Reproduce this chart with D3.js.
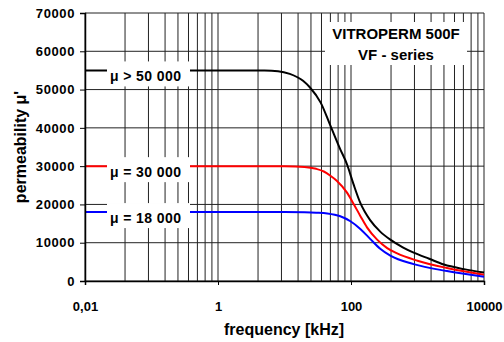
<!DOCTYPE html>
<html>
<head>
<meta charset="utf-8">
<script src="https://cdn.jsdelivr.net/npm/d3@7"></script>
<style>
  body { margin: 0; background: #fff; }
  text { font-family: "Liberation Sans", Arial, sans-serif; font-weight: bold; fill: #000; }
</style>
</head>
<body>
<svg id="chart"></svg>
<script>
// frequency in kHz, permeability values
const freqBlack = [0.01, 1, 5, 8, 12, 19, 24, 35, 49, 69, 87, 109, 138, 194, 275, 390, 600, 875, 1500, 2500, 5000, 10000];
const muBlack = [55000, 55000, 54950, 54800, 54100, 52300, 50600, 46600, 40600, 34400, 30500, 25300, 20400, 15900, 12900, 10800, 8800, 7400, 5800, 4300, 3100, 2200];

const freqRed = [0.01, 1, 10, 20, 30, 39, 49, 61, 86, 109, 138, 174, 247, 350, 494, 1000, 2770, 10000];
const muRed = [30000, 30000, 29950, 29800, 29300, 28600, 27500, 26200, 23200, 20200, 17000, 14000, 10800, 8600, 7200, 5300, 3400, 1650];

const freqBlue = [0.01, 1, 10, 20, 30, 44, 69, 98, 138, 194, 275, 390, 875, 2770, 10000];
const muBlue = [18000, 18000, 18000, 17950, 17850, 17650, 16900, 15600, 13600, 11000, 8400, 6600, 4400, 2600, 1120];

const seriesNames = ['μ > 50 000', 'μ = 30 000', 'μ = 18 000'];
const seriesColors = ['#000000', '#ff0000', '#0000ff'];

const xTicks = [0.01, 1, 100, 10000];
const xTickLabels = ['0,01', '1', '100', '10000'];
const yTicks = [0, 10000, 20000, 30000, 40000, 50000, 60000, 70000];

const width = 504;
const height = 342;
const margin = { top: 13, right: 20, bottom: 61, left: 85 };

const svg = d3.select('#chart')
    .attr('width', width)
    .attr('height', height);

const x = d3.scaleLog()
    .domain([0.01, 10000])
    .range([margin.left, width - margin.right]);

const y = d3.scaleLinear()
    .domain([0, 70000])
    .range([height - margin.bottom, margin.top]);

// vertical grid: the sheet spaces its minor lines as k^2 inside each 100x span
const gridX = [];
xTicks.slice(0, -1).forEach(m => {
    for (let k = 1; k < 10; k++) gridX.push(m * k * k);
});
gridX.push(10000);

svg.append('g').selectAll('line')
    .data(gridX)
    .enter().append('line')
    .attr('x1', d => x(d)).attr('x2', d => x(d))
    .attr('y1', y(0)).attr('y2', y(70000))
    .attr('stroke', '#222')
    .attr('stroke-width', 1);

svg.append('g').selectAll('line')
    .data(yTicks)
    .enter().append('line')
    .attr('x1', x(0.01)).attr('x2', x(10000))
    .attr('y1', d => y(d)).attr('y2', d => y(d))
    .attr('stroke', '#222')
    .attr('stroke-width', 1);

// curves
const series = [
    { f: freqBlack, v: muBlack },
    { f: freqRed, v: muRed },
    { f: freqBlue, v: muBlue }
];

const line = d3.line()
    .x(d => x(d[0]))
    .y(d => y(d[1]))
    .curve(d3.curveMonotoneX);

series.forEach((s, i) => {
    svg.append('path')
        .datum(s.f.map((f, j) => [f, s.v[j]]))
        .attr('d', line)
        .attr('fill', 'none')
        .attr('stroke', seriesColors[i])
        .attr('stroke-width', 2);
});

// labels in white boxes at the left of each curve
series.forEach((s, i) => {
    const yy = y(s.v[0]);
    svg.append('rect')
        .attr('x', 107).attr('y', yy - 9)
        .attr('width', 83).attr('height', 25)
        .attr('fill', '#fff');
    svg.append('text')
        .attr('x', 110).attr('y', yy + 10.5)
        .style('font-size', '14px')
        .style('letter-spacing', '0.4px')
        .text(seriesNames[i]);
});

// title box
svg.append('rect')
    .attr('x', 325).attr('y', 22)
    .attr('width', 142).attr('height', 43)
    .attr('fill', '#fff');
svg.append('text')
    .attr('x', 396).attr('y', 39)
    .attr('text-anchor', 'middle')
    .style('font-size', '15px')
    .text('VITROPERM 500F');
svg.append('text')
    .attr('x', 396).attr('y', 60)
    .attr('text-anchor', 'middle')
    .style('font-size', '15px')
    .text('VF - series');

// axes
const yAxis = svg.append('g')
    .attr('transform', `translate(${margin.left}, 0)`)
    .call(d3.axisLeft(y).tickValues(yTicks).tickSize(5).tickPadding(5).tickFormat(d3.format('d')));
yAxis.select('.domain').attr('stroke', '#000').attr('stroke-width', 1.5);
yAxis.selectAll('text').style('font-size', '13px').style('letter-spacing', '0.6px').attr('font-family', null);

const xAxis = svg.append('g')
    .attr('transform', `translate(0, ${height - margin.bottom})`)
    .call(d3.axisBottom(x).tickValues(xTicks).tickSize(4).tickPadding(17)
        .tickFormat((d, i) => xTickLabels[i]));
xAxis.select('.domain').attr('stroke', '#000').attr('stroke-width', 1.5);
xAxis.selectAll('text').style('font-size', '13px').attr('font-family', null);

// axis titles
svg.append('text')
    .attr('x', 284).attr('y', 335)
    .attr('text-anchor', 'middle')
    .style('font-size', '16px')
    .text('frequency [kHz]');

svg.append('text')
    .attr('transform', 'translate(26, 147) rotate(-90)')
    .attr('text-anchor', 'middle')
    .style('font-size', '16px')
    .text("permeability μ'");
</script>
</body>
</html>
